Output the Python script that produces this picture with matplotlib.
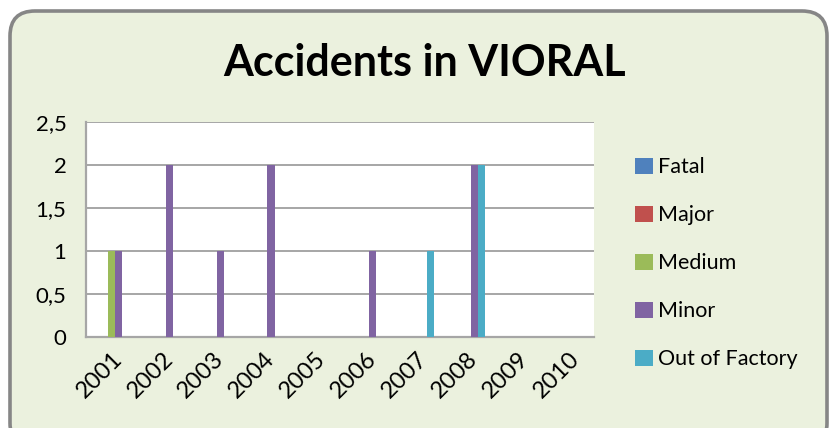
import matplotlib
matplotlib.use("Agg")
import matplotlib.pyplot as plt
import numpy as np
from matplotlib.patches import FancyBboxPatch, Patch
from matplotlib.ticker import FuncFormatter, MultipleLocator

# Data
years = ["2001", "2002", "2003", "2004", "2005", "2006", "2007", "2008", "2009", "2010"]
series_names = ["Fatal", "Major", "Medium", "Minor", "Out of Factory"]
fatal = [0, 0, 0, 0, 0, 0, 0, 0, 0, 0]
major = [0, 0, 0, 0, 0, 0, 0, 0, 0, 0]
medium = [1, 0, 0, 0, 0, 0, 0, 0, 0, 0]
minor = [1, 2, 1, 2, 0, 1, 0, 2, 0, 0]
out_of_factory = [0, 0, 0, 0, 0, 0, 1, 2, 0, 0]
colors = ["#4F81BD", "#C0504D", "#9BBB59", "#8064A2", "#4BACC6"]

plt.rcParams["font.family"] = ["Lato", "DejaVu Sans"]

W, H = 830, 428
fig = plt.figure(figsize=(W / 100, H / 100), dpi=100)
fig.patch.set_facecolor("white")

# Rounded chart frame (drawn in inches so the corners stay round)
frame = FancyBboxPatch(
    (10 / 100, -0.2), (827 - 10) / 100, (H - 11) / 100 + 0.2,
    boxstyle="round,pad=0,rounding_size=0.25",
    transform=fig.dpi_scale_trans,
    facecolor="#EBF1DE", edgecolor="#868686", linewidth=2.6, zorder=-5,
)
fig.patches.append(frame)

ax = fig.add_axes([86 / W, 1 - 337 / H, (594 - 86) / W, (337 - 122) / H])
ax.set_zorder(2)
ax.set_facecolor("white")

values = [fatal, major, medium, minor, out_of_factory]
x = np.arange(len(years))
bw = 1 / 7
for i, (name, vals, c) in enumerate(zip(series_names, values, colors)):
    ax.bar(x + (i - 2) * bw, vals, width=bw, color=c, label=name, zorder=3)

ax.set_xlim(-0.5, len(years) - 0.5)
ax.set_ylim(0, 2.5)
ax.yaxis.set_major_locator(MultipleLocator(0.5))
ax.yaxis.set_major_formatter(FuncFormatter(lambda v, p: f"{v:g}".replace(".", ",")))
ax.grid(axis="y", color="#A6A6A6", linewidth=1.4, zorder=1)
ax.set_xticks(x)
ax.set_xticklabels(years, rotation=45, ha="right", rotation_mode="anchor")
ax.tick_params(length=0, labelsize=16, colors="black")
ax.tick_params(axis="x", labelsize=17, pad=8)
ax.tick_params(axis="y", pad=14)
for side in ["top", "right"]:
    ax.spines[side].set_visible(False)
for side in ["left", "bottom"]:
    ax.spines[side].set_color("#A6A6A6")
    ax.spines[side].set_linewidth(1.6)

fig.text(425 / W, 1 - 63 / H, "Accidents in VIORAL", ha="center", va="center",
         fontsize=31, fontweight="bold")

handles = [Patch(facecolor=c, edgecolor="none") for c in colors]
fig.legend(handles, series_names, loc="upper left", bbox_to_anchor=(616 / W, 1 - 138 / H),
           frameon=False, fontsize=15.5, handlelength=0.8, handleheight=0.8,
           handletextpad=0.25, labelspacing=1.3)

fig.savefig("out.png", dpi=100)
